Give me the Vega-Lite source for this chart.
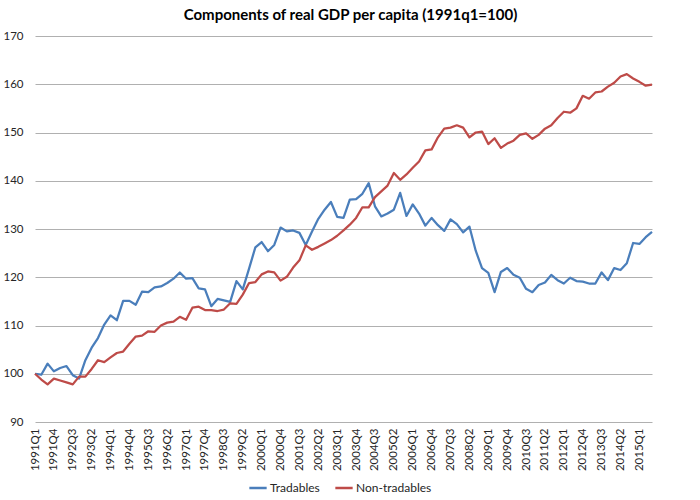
{
  "$schema": "https://vega.github.io/schema/vega-lite/v6.json",
  "width": 617,
  "height": 386,
  "autosize": {"type": "none"},
  "padding": {"left": 35, "top": 36, "right": 48, "bottom": 78},
  "background": "white",
  "config": {"view": {"stroke": null}, "font": "Lato"},
  "title": {"text": "Components of real GDP per capita (1991q1=100)", "font": "Lato", "fontSize": 15, "fontWeight": "bold", "color": "#000000", "anchor": "middle", "offset": 7, "dx": 7},
  "data": {"values": [
    {"q": "1991Q1", "Tradables": 100.0, "Non-tradables": 100.0},
    {"q": "1991Q2", "Tradables": 99.8, "Non-tradables": 98.8},
    {"q": "1991Q3", "Tradables": 102.1, "Non-tradables": 97.8},
    {"q": "1991Q4", "Tradables": 100.5, "Non-tradables": 99.0},
    {"q": "1992Q1", "Tradables": 101.2, "Non-tradables": 98.6},
    {"q": "1992Q2", "Tradables": 101.6, "Non-tradables": 98.2},
    {"q": "1992Q3", "Tradables": 99.7, "Non-tradables": 97.8},
    {"q": "1992Q4", "Tradables": 99.0, "Non-tradables": 99.4},
    {"q": "1993Q1", "Tradables": 102.8, "Non-tradables": 99.4},
    {"q": "1993Q2", "Tradables": 105.4, "Non-tradables": 101.0},
    {"q": "1993Q3", "Tradables": 107.4, "Non-tradables": 102.8},
    {"q": "1993Q4", "Tradables": 110.2, "Non-tradables": 102.4},
    {"q": "1994Q1", "Tradables": 112.1, "Non-tradables": 103.4},
    {"q": "1994Q2", "Tradables": 111.1, "Non-tradables": 104.3},
    {"q": "1994Q3", "Tradables": 115.1, "Non-tradables": 104.6},
    {"q": "1994Q4", "Tradables": 115.1, "Non-tradables": 106.2},
    {"q": "1995Q1", "Tradables": 114.3, "Non-tradables": 107.7},
    {"q": "1995Q2", "Tradables": 117.0, "Non-tradables": 107.9},
    {"q": "1995Q3", "Tradables": 116.9, "Non-tradables": 108.8},
    {"q": "1995Q4", "Tradables": 117.9, "Non-tradables": 108.7},
    {"q": "1996Q1", "Tradables": 118.1, "Non-tradables": 110.0},
    {"q": "1996Q2", "Tradables": 118.8, "Non-tradables": 110.6},
    {"q": "1996Q3", "Tradables": 119.7, "Non-tradables": 110.8},
    {"q": "1996Q4", "Tradables": 121.0, "Non-tradables": 111.8},
    {"q": "1997Q1", "Tradables": 119.7, "Non-tradables": 111.2},
    {"q": "1997Q2", "Tradables": 119.8, "Non-tradables": 113.7},
    {"q": "1997Q3", "Tradables": 117.7, "Non-tradables": 113.9},
    {"q": "1997Q4", "Tradables": 117.5, "Non-tradables": 113.2},
    {"q": "1998Q1", "Tradables": 114.0, "Non-tradables": 113.2},
    {"q": "1998Q2", "Tradables": 115.5, "Non-tradables": 113.0},
    {"q": "1998Q3", "Tradables": 115.2, "Non-tradables": 113.3},
    {"q": "1998Q4", "Tradables": 114.9, "Non-tradables": 114.6},
    {"q": "1999Q1", "Tradables": 119.2, "Non-tradables": 114.5},
    {"q": "1999Q2", "Tradables": 117.5, "Non-tradables": 116.4},
    {"q": "1999Q3", "Tradables": 121.8, "Non-tradables": 118.8},
    {"q": "1999Q4", "Tradables": 126.2, "Non-tradables": 119.0},
    {"q": "2000Q1", "Tradables": 127.3, "Non-tradables": 120.6},
    {"q": "2000Q2", "Tradables": 125.4, "Non-tradables": 121.2},
    {"q": "2000Q3", "Tradables": 126.7, "Non-tradables": 121.0},
    {"q": "2000Q4", "Tradables": 130.3, "Non-tradables": 119.3},
    {"q": "2001Q1", "Tradables": 129.5, "Non-tradables": 120.1},
    {"q": "2001Q2", "Tradables": 129.7, "Non-tradables": 122.0},
    {"q": "2001Q3", "Tradables": 129.2, "Non-tradables": 123.5},
    {"q": "2001Q4", "Tradables": 126.7, "Non-tradables": 126.6},
    {"q": "2002Q1", "Tradables": 129.5, "Non-tradables": 125.7},
    {"q": "2002Q2", "Tradables": 132.1, "Non-tradables": 126.3},
    {"q": "2002Q3", "Tradables": 134.0, "Non-tradables": 127.0},
    {"q": "2002Q4", "Tradables": 135.6, "Non-tradables": 127.7},
    {"q": "2003Q1", "Tradables": 132.5, "Non-tradables": 128.6},
    {"q": "2003Q2", "Tradables": 132.3, "Non-tradables": 129.7},
    {"q": "2003Q3", "Tradables": 136.1, "Non-tradables": 130.9},
    {"q": "2003Q4", "Tradables": 136.2, "Non-tradables": 132.3},
    {"q": "2004Q1", "Tradables": 137.3, "Non-tradables": 134.5},
    {"q": "2004Q2", "Tradables": 139.5, "Non-tradables": 134.5},
    {"q": "2004Q3", "Tradables": 134.7, "Non-tradables": 136.6},
    {"q": "2004Q4", "Tradables": 132.6, "Non-tradables": 137.8},
    {"q": "2005Q1", "Tradables": 133.2, "Non-tradables": 139.0},
    {"q": "2005Q2", "Tradables": 134.0, "Non-tradables": 141.6},
    {"q": "2005Q3", "Tradables": 137.5, "Non-tradables": 140.2},
    {"q": "2005Q4", "Tradables": 132.7, "Non-tradables": 141.3},
    {"q": "2006Q1", "Tradables": 135.1, "Non-tradables": 142.7},
    {"q": "2006Q2", "Tradables": 133.2, "Non-tradables": 144.0},
    {"q": "2006Q3", "Tradables": 130.7, "Non-tradables": 146.3},
    {"q": "2006Q4", "Tradables": 132.3, "Non-tradables": 146.5},
    {"q": "2007Q1", "Tradables": 130.8, "Non-tradables": 149.0},
    {"q": "2007Q2", "Tradables": 129.6, "Non-tradables": 150.8},
    {"q": "2007Q3", "Tradables": 132.0, "Non-tradables": 151.0},
    {"q": "2007Q4", "Tradables": 131.0, "Non-tradables": 151.5},
    {"q": "2008Q1", "Tradables": 129.3, "Non-tradables": 151.0},
    {"q": "2008Q2", "Tradables": 130.5, "Non-tradables": 149.0},
    {"q": "2008Q3", "Tradables": 125.5, "Non-tradables": 150.0},
    {"q": "2008Q4", "Tradables": 121.9, "Non-tradables": 150.2},
    {"q": "2009Q1", "Tradables": 120.9, "Non-tradables": 147.6},
    {"q": "2009Q2", "Tradables": 116.9, "Non-tradables": 148.8},
    {"q": "2009Q3", "Tradables": 121.1, "Non-tradables": 146.8},
    {"q": "2009Q4", "Tradables": 121.9, "Non-tradables": 147.7},
    {"q": "2010Q1", "Tradables": 120.5, "Non-tradables": 148.3},
    {"q": "2010Q2", "Tradables": 119.9, "Non-tradables": 149.5},
    {"q": "2010Q3", "Tradables": 117.6, "Non-tradables": 149.8},
    {"q": "2010Q4", "Tradables": 116.9, "Non-tradables": 148.7},
    {"q": "2011Q1", "Tradables": 118.4, "Non-tradables": 149.5},
    {"q": "2011Q2", "Tradables": 118.9, "Non-tradables": 150.8},
    {"q": "2011Q3", "Tradables": 120.5, "Non-tradables": 151.5},
    {"q": "2011Q4", "Tradables": 119.4, "Non-tradables": 153.0},
    {"q": "2012Q1", "Tradables": 118.7, "Non-tradables": 154.3},
    {"q": "2012Q2", "Tradables": 119.9, "Non-tradables": 154.1},
    {"q": "2012Q3", "Tradables": 119.2, "Non-tradables": 155.0},
    {"q": "2012Q4", "Tradables": 119.1, "Non-tradables": 157.6},
    {"q": "2013Q1", "Tradables": 118.7, "Non-tradables": 157.0},
    {"q": "2013Q2", "Tradables": 118.7, "Non-tradables": 158.3},
    {"q": "2013Q3", "Tradables": 121.0, "Non-tradables": 158.5},
    {"q": "2013Q4", "Tradables": 119.4, "Non-tradables": 159.5},
    {"q": "2014Q1", "Tradables": 121.9, "Non-tradables": 160.3},
    {"q": "2014Q2", "Tradables": 121.5, "Non-tradables": 161.6},
    {"q": "2014Q3", "Tradables": 122.9, "Non-tradables": 162.1},
    {"q": "2014Q4", "Tradables": 127.1, "Non-tradables": 161.2},
    {"q": "2015Q1", "Tradables": 126.9, "Non-tradables": 160.5},
    {"q": "2015Q2", "Tradables": 128.3, "Non-tradables": 159.7},
    {"q": "2015Q3", "Tradables": 129.4, "Non-tradables": 159.9}
  ]},
  "transform": [{"fold": ["Tradables", "Non-tradables"], "as": ["series", "value"]}],
  "mark": {"type": "line", "strokeWidth": 2.25, "strokeJoin": "round"},
  "encoding": {
    "x": {
      "field": "q", "type": "ordinal", "sort": null,
      "scale": {"type": "point", "padding": 0},
      "axis": {
        "title": null, "domain": false, "ticks": false, "grid": false,
        "labelAngle": -90, "labelPadding": 6, "labelFont": "Lato", "labelFontSize": 11.5, "labelColor": "#262626",
        "values": ["1991Q1","1991Q4","1992Q3","1993Q2","1994Q1","1994Q4","1995Q3","1996Q2","1997Q1","1997Q4","1998Q3","1999Q2","2000Q1","2000Q4","2001Q3","2002Q2","2003Q1","2003Q4","2004Q3","2005Q2","2006Q1","2006Q4","2007Q3","2008Q2","2009Q1","2009Q4","2010Q3","2011Q2","2012Q1","2012Q4","2013Q3","2014Q2","2015Q1"]
      }
    },
    "y": {
      "field": "value", "type": "quantitative",
      "scale": {"domain": [90, 170], "nice": false, "zero": false},
      "axis": {
        "title": null, "domain": false, "ticks": false, "tickSize": 0, "labelPadding": 12,
        "values": [90, 100, 110, 120, 130, 140, 150, 160, 170],
        "grid": true, "gridColor": "#b0b0b0", "gridWidth": 1,
        "labelFont": "Lato", "labelFontSize": 11.5, "labelColor": "#262626"
      }
    },
    "color": {
      "field": "series", "type": "nominal",
      "scale": {"domain": ["Tradables", "Non-tradables"], "range": ["#4a7ebb", "#be4b48"]},
      "legend": {
        "title": null, "orient": "none", "direction": "horizontal", "legendX": 213, "legendY": 442,
        "symbolType": "stroke", "symbolSize": 300, "symbolStrokeWidth": 2.5,
        "labelFont": "Lato", "labelFontSize": 12, "labelColor": "#262626", "labelOffset": 2, "columnPadding": 10
      }
    }
  }
}
